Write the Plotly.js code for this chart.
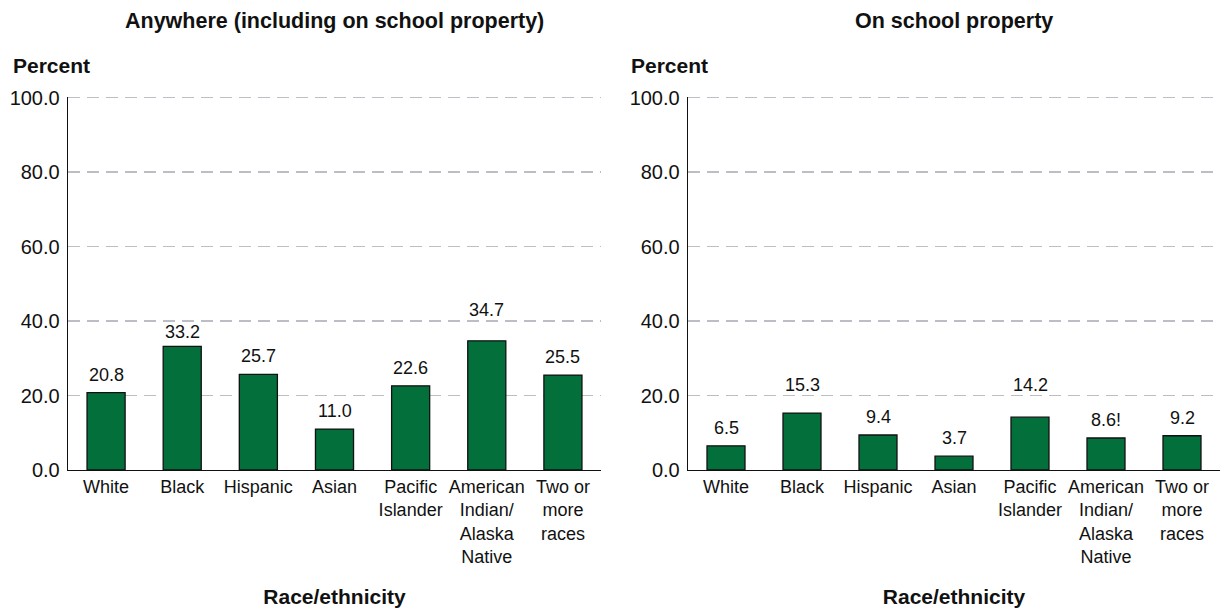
<!DOCTYPE html>
<html>
<head>
<meta charset="utf-8">
<script src="https://cdn.plot.ly/plotly-3.0.1.min.js"></script>
<style>html,body{margin:0;padding:0;background:#fff;}#chart{width:1224px;height:608px;}</style>
</head>
<body>
<div id="chart"></div>
<script>
var categories = ['White', 'Black', 'Hispanic', 'Asian', 'Pacific<br>Islander', 'American<br>Indian/<br>Alaska<br>Native', 'Two or<br>more<br>races'];
var anywhereValues = [20.8, 33.2, 25.7, 11.0, 22.6, 34.7, 25.5];
var schoolValues = [6.5, 15.3, 9.4, 3.7, 14.2, 8.6, 9.2];
var schoolFlags = ['', '', '', '', '', '!', ''];
var anywhereFlags = ['', '', '', '', '', '', ''];
var panelTitles = ['Anywhere (including on school property)', 'On school property'];
var yTickVals = [0, 20, 40, 60, 80, 100];

var FONT = '"Liberation Sans", Arial, Helvetica, sans-serif';
var GREEN = '#03703c';
var W = 1224, H = 608;
var Y0PX = 470, Y100PX = 97.7;
var PXU = (Y0PX - Y100PX) / 100;
var YMAX = 100.3;
var leftDom = [68 / W, 601 / W];
var rightDom = [688 / W, 1220 / W];
var yDom = [(H - Y0PX) / H, (H - (Y0PX - YMAX * PXU)) / H];

function barTrace(vals, xa, ya) {
  return {
    type: 'bar', x: categories.map(function(c, i){ return i; }), y: vals,
    xaxis: xa, yaxis: ya, width: 0.5,
    marker: {color: GREEN, line: {color: '#111', width: 1.3}},
    hoverinfo: 'skip', showlegend: false
  };
}

var data = [barTrace(anywhereValues, 'x', 'y'), barTrace(schoolValues, 'x2', 'y2')];

function xAxis(dom, anchor) {
  return {
    domain: dom, anchor: anchor, range: [-0.5, 6.5],
    tickmode: 'array', tickvals: categories.map(function(c, i){ return i; }), ticktext: categories,
    tickfont: {family: FONT, size: 18, color: '#111'},
    ticks: '',
    showline: true, linecolor: '#111', linewidth: 1.3,
    showgrid: false, zeroline: false, automargin: false, fixedrange: true,
    title: {text: '<b>Race/ethnicity</b>', font: {family: FONT, size: 21, color: '#111'}, standoff: 26}
  };
}
function yAxis(anchor) {
  return {
    domain: yDom, anchor: anchor, range: [0, YMAX],
    tickmode: 'array', tickvals: yTickVals, ticktext: yTickVals.map(function(v){ return v.toFixed(1); }),
    tickfont: {family: FONT, size: 20, color: '#111'},
    ticks: 'outside', ticklen: 3, tickcolor: 'rgba(0,0,0,0)',
    showline: true, linecolor: '#111', linewidth: 1.3,
    showgrid: true, gridcolor: '#bdbdc6', gridwidth: 1.5, griddash: '12px,7px',
    zeroline: false, automargin: false, fixedrange: true
  };
}

// value labels: sit ~18px above the bar; if a gridline would cross the text,
// move the label just below the gridline (when there is room above the bar) or just above it.
var annotations = [];
function labelOffset(v) {
  var top = Y0PX - v * PXU;
  var c = top - 18;
  for (var g = 0; g < yTickVals.length; g++) {
    var gy = Y0PX - yTickVals[g] * PXU;
    if (Math.abs(c - gy) < 9) {
      var down = gy + 11;
      if (down + 10 <= top - 3) c = down; else c = gy - 11;
      break;
    }
  }
  return top - c;
}
function addLabels(vals, flags, xref, yref) {
  vals.forEach(function(v, i) {
    annotations.push({
      x: i, y: v, xref: xref, yref: yref, text: v.toFixed(1) + flags[i],
      showarrow: false, yanchor: 'middle', yshift: labelOffset(v),
      font: {family: FONT, size: 18, color: '#111'}
    });
  });
}
addLabels(anywhereValues, anywhereFlags, 'x', 'y');
addLabels(schoolValues, schoolFlags, 'x2', 'y2');

[leftDom, rightDom].forEach(function(dom, k) {
  annotations.push({
    x: (dom[0] + dom[1]) / 2, y: (H - 21) / H, xref: 'paper', yref: 'paper',
    text: '<b>' + panelTitles[k] + '</b>', showarrow: false, xanchor: 'center', yanchor: 'middle',
    font: {family: FONT, size: 21.5, color: '#111'}
  });
});
[11, 629].forEach(function(px) {
  annotations.push({
    x: px / W, y: (H - 66) / H, xref: 'paper', yref: 'paper',
    text: '<b>Percent</b>', showarrow: false, xanchor: 'left', yanchor: 'middle',
    font: {family: FONT, size: 21, color: '#111'}
  });
});

var layout = {
  width: W, height: H,
  margin: {l: 0, r: 0, t: 0, b: 0},
  paper_bgcolor: '#fff', plot_bgcolor: '#fff',
  xaxis: xAxis(leftDom, 'y'), yaxis: yAxis('x'),
  xaxis2: xAxis(rightDom, 'y2'), yaxis2: yAxis('x2'),
  annotations: annotations,
  bargap: 0.5
};

Plotly.newPlot('chart', data, layout, {displayModeBar: false, staticPlot: true});
</script>
</body>
</html>
